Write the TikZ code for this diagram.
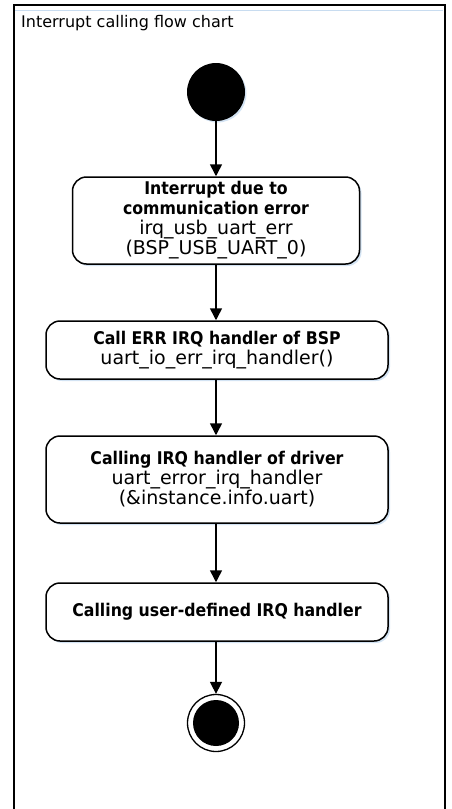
\documentclass[tikz,border=0pt]{standalone}
\usepackage{fontspec}
\setmainfont{DejaVu Sans}[BoldFont=DejaVu Sans Condensed Bold]
\usetikzlibrary{arrows.meta,positioning,shadows}
\definecolor{ink}{RGB}{0,0,0}
\definecolor{haze}{RGB}{200,220,240}
\newcommand{\hd}[1]{{\fontsize{17.5}{20}\selectfont\bfseries #1}}
\tikzset{
  >={Triangle[length=12pt,width=12pt]},
  act/.style={draw=ink,fill=white,rounded corners=14pt,line width=1.5pt,
    minimum width=#1,align=center,font=\fontsize{19}{20}\selectfont,
    drop shadow={shadow xshift=2pt,shadow yshift=-2pt,fill=haze,opacity=0.8}},
  act/.default=342pt,
  flow/.style={->,line width=1.5pt,draw=ink},
  initial/.style={circle,fill=ink,minimum size=58pt,inner sep=0pt,
    drop shadow={shadow xshift=1.5pt,shadow yshift=-1.5pt,fill=haze,opacity=0.8}},
  final/.style={circle,draw=ink,line width=1.3pt,fill=white,minimum size=57pt,inner sep=0pt},
}
\begin{document}
\begin{tikzpicture}[x=1pt,y=-1pt]
  \useasboundingbox (0,0) rectangle (451,809);
  % frame
  \draw[haze,line width=1pt] (15,10) -- (443,10);
  \draw[ink,line width=2pt] (13.5,820) -- (13.5,5) -- (445,5) -- (445,820);
  \node[anchor=west,inner sep=0pt,font=\fontsize{16}{18}\selectfont] (title) at (21,23) {Interrupt calling flow chart};
  % activities
  \node[initial] (start) at (216,92) {};
  \node[act=287pt,minimum height=87pt] (irq) at (216,220.5)
    {\hd{Interrupt due to}\\\hd{communication error}\\irq\_usb\_uart\_err\\(BSP\_USB\_UART\_0)};
  \node[act,minimum height=58pt] (bsp) at (217,350)
    {\hd{Call ERR IRQ handler of BSP}\\uart\_io\_err\_irq\_handler()};
  \node[act,minimum height=87pt] (drv) at (217,479.5)
    {\hd{Calling IRQ handler of driver}\\uart\_error\_irq\_handler\\(\&instance.info.uart)};
  \node[act,minimum height=58pt] (user) at (217,612)
    {\hd{Calling user-defined IRQ handler}};
  \node[final] (stop) at (216,723) {};
  \fill[ink] (stop.center) circle (23pt);
  % flows
  \draw[flow] (start) -- (irq);
  \draw[flow] (irq) -- (bsp.north -| irq.south);
  \draw[flow] (bsp.south -| irq.south) -- (drv.north -| irq.south);
  \draw[flow] (drv.south -| irq.south) -- (user.north -| irq.south);
  \draw[flow] (user.south -| irq.south) -- (stop);
\end{tikzpicture}
\end{document}
